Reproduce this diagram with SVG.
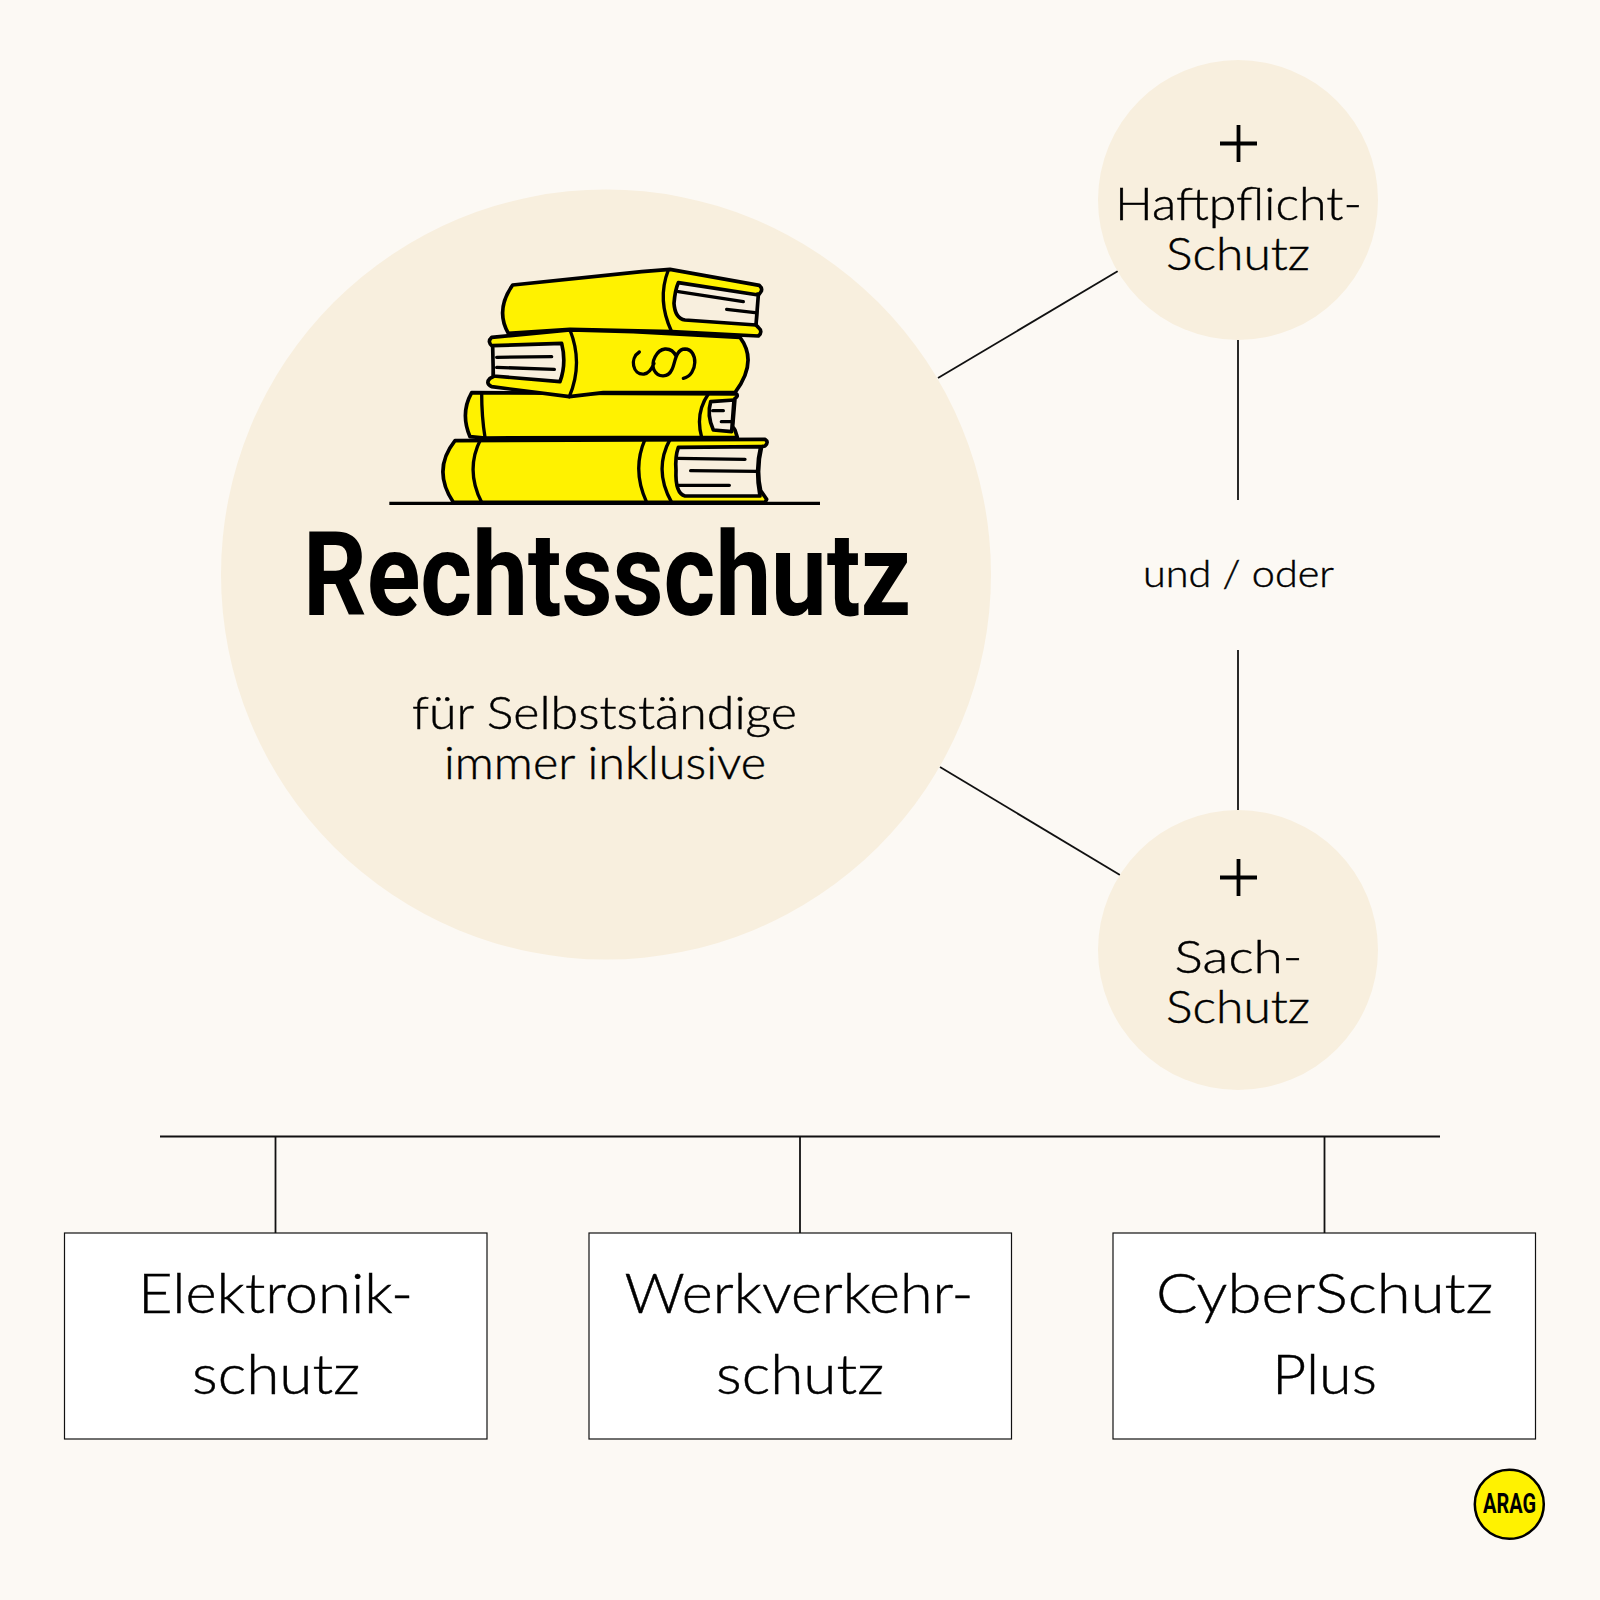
<svg xmlns="http://www.w3.org/2000/svg" width="1600" height="1600" viewBox="0 0 1600 1600">
<style>
.t{font-family:"Lato","Liberation Sans",sans-serif;font-weight:300;fill:#000;stroke:#000;stroke-width:.45}
.m{font-size:46px}.b{font-size:56px}
.c{stroke:#111;stroke-width:1.8;fill:none}
.disc{fill:#f8efde}
.box{fill:#fff;stroke:#111;stroke-width:1.2}
.plus{stroke:#000;stroke-width:3.8;fill:none}
.bk{fill:#fff200;stroke:#000;stroke-width:11;stroke-linejoin:round;stroke-linecap:round}
.pg{fill:#f8efde;stroke:#000;stroke-width:11;stroke-linejoin:round;stroke-linecap:round}
.ln{fill:none;stroke:#000;stroke-width:10;stroke-linecap:round}
</style>
<rect width="1600" height="1600" fill="#fcf9f4"/>
<g id="connectors">
<line class="c" x1="938" y1="378" x2="1118" y2="271"/>
<line class="c" x1="940" y1="767" x2="1120" y2="875"/>
<line class="c" x1="1238" y1="340" x2="1238" y2="500"/>
<line class="c" x1="1238" y1="650" x2="1238" y2="811"/>
<line class="c" x1="160" y1="1136.500" x2="1440" y2="1136.500"/>
<line class="c" x1="275.500" y1="1136" x2="275.500" y2="1233"/>
<line class="c" x1="800" y1="1136" x2="800" y2="1233"/>
<line class="c" x1="1324.500" y1="1136" x2="1324.500" y2="1233"/>
</g>
<g id="node-rechtsschutz">
<circle class="disc" cx="606" cy="574.500" r="385"/>
<g id="books" transform="translate(370 250) scale(.33333)">
<path class="bk" d="M255 572L1185 568Q1198 576 1185 588L1175 590Q1158 660 1172 722L1190 748L1185 757L250 757Q185 660 255 572Z"/>
<path class="pg" d="M925 592L1172 590Q1155 660 1170 738L945 738Q915 730 918 660Q915 620 925 592Z"/>
<path class="ln" d="M332 568Q285 660 335 757M825 568Q785 660 830 757M900 568Q850 660 905 757M925 625L1125 628M962 662L1160 664M925 706L1078 706"/>
<path class="bk" d="M305 428L1100 432Q1105 440 1095 445L1088 530L1095 540L1102 562L345 564L300 560Q270 490 305 428Z"/>
<path class="pg" d="M1022 455L1092 450L1085 545L1030 540Q1010 495 1022 455Z"/>
<path class="ln" d="M335 428Q335 500 345 562M1015 432Q975 490 995 562M1028 482L1060 482M1054 515L1085 515"/>
<path class="bk" d="M428 105L815 65L900 58L1168 106Q1182 118 1168 132L1162 132L1158 225L1165 232Q1180 245 1165 258L905 245L600 238L415 250Q375 180 428 105Z"/>
<path class="pg" d="M925 98L1165 135L1158 225L945 210Q915 205 912 160Q915 120 925 98Z"/>
<path class="ln" d="M895 60Q860 150 905 245M925 125L1120 155M1070 178L1155 188"/>
<path class="bk" d="M600 240L365 262Q350 275 368 290L375 290L370 380L360 385Q345 400 365 410L598 440L700 428L1095 428Q1165 335 1110 262L790 245Z"/>
<path class="pg" d="M368 287L575 280Q590 340 570 395L370 378Z"/>
<path class="ln" d="M600 240Q640 340 598 440M380 322L545 320M380 352L553 358"/>
<path class="ln" d="M808 306C778 325 788 375 822 372C838 370 846 355 852 340M940 385C985 375 985 298 945 297C915 297 915 345 905 360C895 382 865 385 852 360C842 335 860 300 885 297C900 296 912 305 918 318"/>
<line x1="58" y1="760" x2="1350" y2="760" stroke="#000" stroke-width="10"/>
</g>
<text x="303" y="614.500" font-family="Roboto,'Liberation Sans',sans-serif" font-weight="700" font-size="116" fill="#000" textLength="608" lengthAdjust="spacingAndGlyphs">Rechtsschutz</text>
<text class="t m" x="412" y="729" textLength="385" lengthAdjust="spacingAndGlyphs">für Selbstständige</text>
<text class="t m" x="444" y="779" textLength="322" lengthAdjust="spacingAndGlyphs">immer inklusive</text>
</g>
<g id="node-haftpflicht">
<circle class="disc" cx="1238" cy="200" r="140"/>
<path class="plus" d="M1220 143.500H1257M1238.500 125V162"/>
<text class="t m" x="1115" y="220" textLength="247" lengthAdjust="spacingAndGlyphs">Haftpflicht-</text>
<text class="t m" x="1166" y="270" textLength="144" lengthAdjust="spacingAndGlyphs">Schutz</text>
</g>
<g id="node-und-oder">
<text class="t" font-size="38" x="1143" y="587" textLength="191" lengthAdjust="spacingAndGlyphs">und / oder</text>
</g>
<g id="node-sach">
<circle class="disc" cx="1238" cy="950" r="140"/>
<path class="plus" d="M1220 877.500H1257M1238.500 859V896"/>
<text class="t m" x="1174.500" y="973" textLength="128" lengthAdjust="spacingAndGlyphs">Sach-</text>
<text class="t m" x="1166" y="1023" textLength="144" lengthAdjust="spacingAndGlyphs">Schutz</text>
</g>
<g id="node-elektronik">
<rect class="box" x="64.500" y="1233" width="422.500" height="206"/>
<text class="t b" x="138" y="1313" textLength="275" lengthAdjust="spacingAndGlyphs">Elektronik-</text>
<text class="t b" x="192" y="1394" textLength="168" lengthAdjust="spacingAndGlyphs">schutz</text>
</g>
<g id="node-werkverkehr">
<rect class="box" x="589" y="1233" width="422.500" height="206"/>
<text class="t b" x="624.500" y="1313" textLength="349" lengthAdjust="spacingAndGlyphs">Werkverkehr-</text>
<text class="t b" x="716" y="1394" textLength="168" lengthAdjust="spacingAndGlyphs">schutz</text>
</g>
<g id="node-cyber">
<rect class="box" x="1113" y="1233" width="422.500" height="206"/>
<text class="t b" x="1156" y="1313" textLength="337" lengthAdjust="spacingAndGlyphs">CyberSchutz</text>
<text class="t b" x="1272" y="1394" textLength="105" lengthAdjust="spacingAndGlyphs">Plus</text>
</g>
<g id="logo">
<circle cx="1509.300" cy="1504.300" r="34.500" fill="#fff200" stroke="#000" stroke-width="2.500"/>
<text x="1483" y="1513" font-family="Roboto,'Liberation Sans',sans-serif" font-weight="700" font-size="27" fill="#000" textLength="53" lengthAdjust="spacingAndGlyphs">ARAG</text>
</g>
</svg>
